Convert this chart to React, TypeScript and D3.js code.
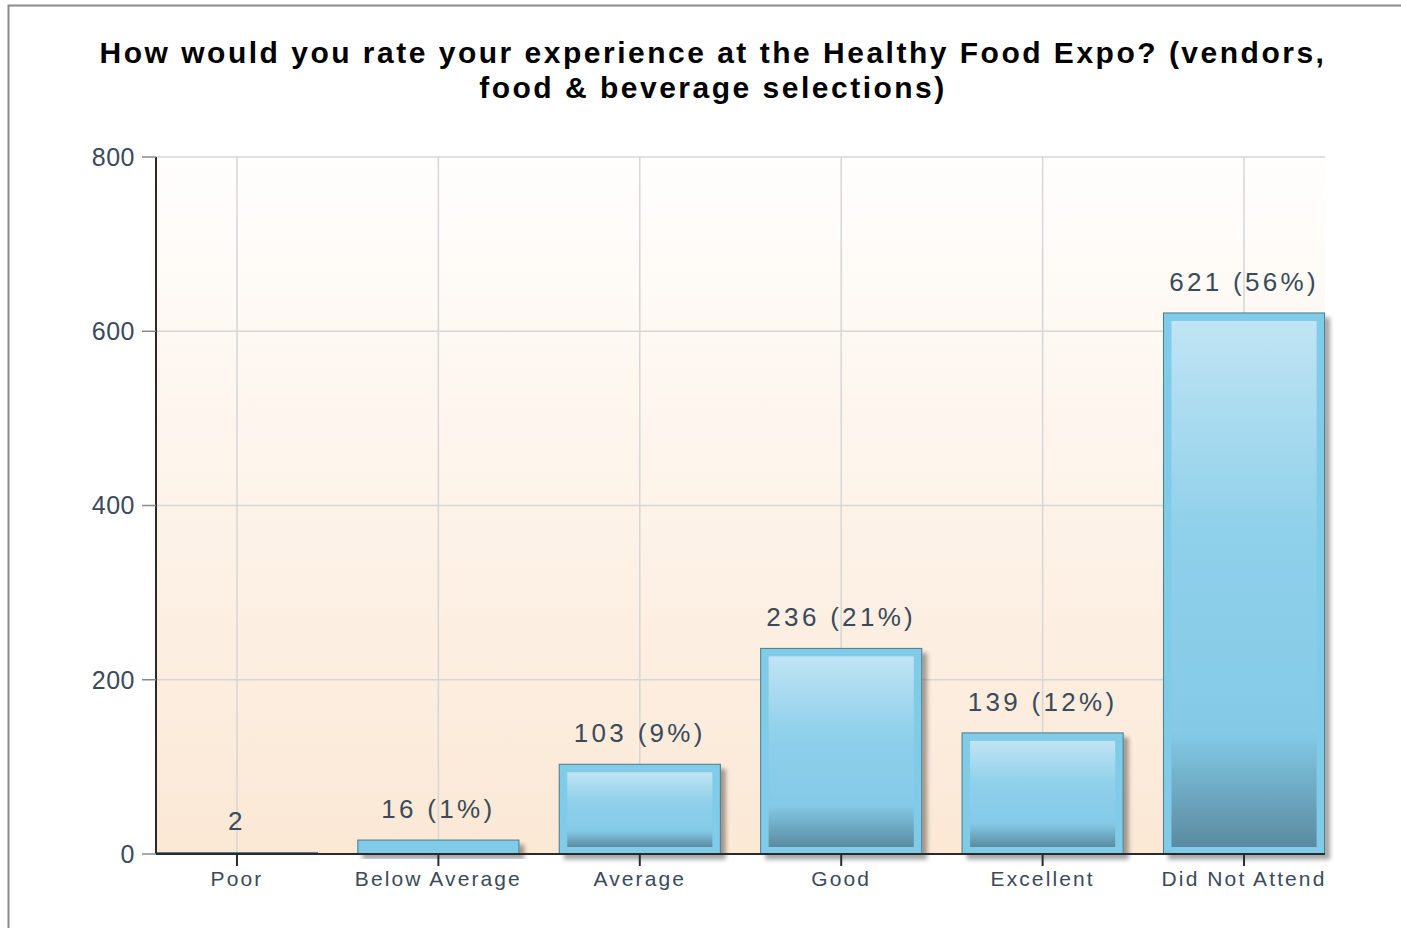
import React from "react";
import * as d3 from "d3";

const categories = ["Poor", "Below Average", "Average", "Good", "Excellent", "Did Not Attend"];
const counts = [2, 16, 103, 236, 139, 621];
const percentLabels = ["", "1%", "9%", "21%", "12%", "56%"];
const yTicks = [0, 200, 400, 600, 800];
const titleLines = [
  "How would you rate your experience at the Healthy Food Expo? (vendors,",
  "food & beverage selections)",
];

const W = 1401;
const H = 928;
const plot = { left: 156, right: 1325, top: 157, bottom: 854 };
const textColor = "#3a4a5b";
const font = "'Liberation Sans', Arial, sans-serif";

export default function App() {
  const y = d3.scaleLinear().domain([0, 800]).range([plot.bottom, plot.top]);
  const x = d3
    .scalePoint<string>()
    .domain(categories)
    .range([plot.left, plot.right])
    .padding(0.402);
  const step = x.step();
  const barW = step * 0.8;
  const inset = 8;

  return (
    <div style={{ position: "absolute", left: 0, top: 0, width: W, height: H, overflow: "hidden" }}>
      <svg width={W} height={H} style={{ display: "block" }}>
        <defs>
          <linearGradient id="bg" x1="0" y1="0" x2="0" y2="1">
            <stop offset="0%" stopColor="#fffefd" />
            <stop offset="100%" stopColor="#fbe8d5" />
          </linearGradient>
          <linearGradient id="inner" x1="0" y1="0" x2="0" y2="1">
            <stop offset="0%" stopColor="#c0e4f4" />
            <stop offset="40%" stopColor="#8fd0ea" />
            <stop offset="78%" stopColor="#84cae7" />
            <stop offset="100%" stopColor="#5a8ba0" />
          </linearGradient>
          <filter id="shadow" x="-10%" y="-10%" width="130%" height="140%">
            <feDropShadow dx="5" dy="5" stdDeviation="2" floodColor="#000" floodOpacity="0.35" />
          </filter>
        </defs>
        <rect x={0} y={0} width={W} height={H} fill="#fff" />
        <rect x={8.5} y={5.5} width={W + 20} height={H + 20} fill="#fff" stroke="#8a8a8a" strokeWidth={2} />

        {/* title */}
        {titleLines.map((t, i) => (
          <text
            key={i}
            x={713}
            y={63 + i * 35}
            textAnchor="middle"
            fontFamily={font}
            fontWeight="bold"
            fontSize={30}
            letterSpacing={2.5}
            fill="#000"
          >
            {t}
          </text>
        ))}

        {/* plot background */}
        <rect
          x={plot.left}
          y={plot.top}
          width={plot.right - plot.left}
          height={plot.bottom - plot.top}
          fill="url(#bg)"
        />

        {/* grid */}
        {yTicks.map((t) => (
          <line key={"gy" + t} x1={plot.left} x2={plot.right} y1={y(t)} y2={y(t)} stroke="#d6d6d6" strokeWidth={1.5} />
        ))}
        {categories.map((c) => (
          <line key={"gx" + c} x1={x(c)!} x2={x(c)!} y1={plot.top} y2={plot.bottom} stroke="#d6d6d6" strokeWidth={1.5} />
        ))}

        {/* bars */}
        {categories.map((c, i) => {
          const cx = x(c)!;
          const x0 = cx - barW / 2;
          const y0 = y(counts[i]);
          const h = plot.bottom - y0;
          const showInner = h > inset * 2 + 4;
          return (
            <g key={"b" + c}>
              <rect
                x={x0}
                y={y0}
                width={barW}
                height={Math.max(h, 2)}
                fill={h < 4 ? "#3f6f7f" : "#7fcbe8"}
                stroke="#4d7a8a"
                strokeWidth={1}
                filter="url(#shadow)"
              />
              {showInner && (
                <rect
                  x={x0 + inset}
                  y={y0 + inset}
                  width={barW - inset * 2}
                  height={h - inset * 2 + 1}
                  fill="url(#inner)"
                />
              )}
            </g>
          );
        })}

        {/* axes */}
        <line x1={plot.left} x2={plot.left} y1={plot.top} y2={plot.bottom} stroke="#2a2a2a" strokeWidth={2} />
        <line x1={plot.left} x2={plot.right} y1={plot.bottom} y2={plot.bottom} stroke="#2a2a2a" strokeWidth={2} />
        {yTicks.map((t) => (
          <g key={"yt" + t}>
            <line x1={plot.left - 14} x2={plot.left} y1={y(t)} y2={y(t)} stroke="#8a8a8a" strokeWidth={1.5} />
            <text
              x={plot.left - 21}
              y={y(t)}
              dy="0.35em"
              textAnchor="end"
              fontFamily={font}
              fontSize={25}
              letterSpacing={0.5}
              fill={textColor}
            >
              {t}
            </text>
          </g>
        ))}
        {categories.map((c) => (
          <g key={"xt" + c}>
            <line x1={x(c)!} x2={x(c)!} y1={plot.bottom} y2={plot.bottom + 12} stroke="#2a2a2a" strokeWidth={2} />
            <text
              x={x(c)!}
              y={plot.bottom + 32}
              textAnchor="middle"
              fontFamily={font}
              fontSize={21}
              letterSpacing={2.1}
              fill={textColor}
            >
              {c}
            </text>
          </g>
        ))}

        {/* value labels */}
        {categories.map((c, i) => (
          <text
            key={"v" + c}
            x={x(c)!}
            y={y(counts[i]) - 22}
            textAnchor="middle"
            fontFamily={font}
            fontSize={26}
            letterSpacing={3.3}
            fill={textColor}
          >
            {percentLabels[i] ? `${counts[i]} (${percentLabels[i]})` : `${counts[i]}`}
          </text>
        ))}
      </svg>
    </div>
  );
}
